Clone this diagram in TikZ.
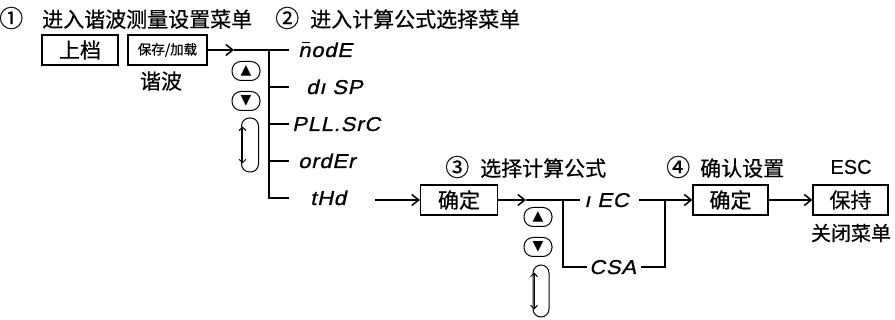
\documentclass[tikz,border=0pt]{standalone}
\usepackage{fontspec}
\newfontfamily\cjk[FakeBold=0.5]{Noto Sans CJK SC}
\newfontfamily\segf[FakeSlant=0.22,FakeStretch=1.1,LetterSpace=4,FakeBold=0.8]{Liberation Sans}
\newfontfamily\dv{DejaVu Sans}
\newfontfamily\lat[FakeBold=0.3]{Liberation Sans}
\newcommand{\circnum}[1]{{\fontsize{24}{24}\selectfont #1}}
\newcommand{\segbar}{\rlap{\kern3.5pt\rule[13.5pt]{8pt}{1.6pt}}}
\usetikzlibrary{arrows.meta,calc}
\tikzset{
 conn/.style={line width=1.5pt},
 arr/.style={conn,-{Straight Barb[length=7pt,width=11pt,line width=1.5pt]}},
 keybox/.style={draw,line width=1.1pt,minimum height=30pt,inner sep=0pt,font=\cjk\fontsize{21}{21}\selectfont},
 segtxt/.style={font=\segf\fontsize{20}{20}\selectfont,inner sep=0pt,anchor=base west},
 lbl/.style={font=\cjk\fontsize{21}{21}\selectfont,inner sep=0pt},
 btn/.style={draw,line width=1pt,rounded corners=9pt,minimum width=28pt,minimum height=19pt,inner sep=0pt,font=\dv\fontsize{14}{14}\selectfont},
 scroll/.style={draw,line width=1pt,rounded corners=8pt,minimum width=17pt,minimum height=54pt,inner sep=0pt},
 dbl/.style={line width=1pt,{Straight Barb[length=3.5pt,width=7pt]}-{Straight Barb[length=3.5pt,width=7pt]}},
}
\begin{document}
\begin{tikzpicture}[x=1pt,y=-1pt]
\useasboundingbox (0,0) rectangle (895,320);
% titles
\node[lbl,anchor=west] (t1) at (-1,18) {\circnum{①}\hspace{19pt}进入谐波测量设置菜单};
\node[lbl,anchor=west] (t2) at (275,18) {\circnum{②}\hspace{11pt}进入计算公式选择菜单};
% first row keys
\node[keybox,minimum width=76pt] (shang) at (80,50) {上档};
\node[keybox,minimum width=79pt,font=\cjk\fontsize{13.5}{13.5}\selectfont] (save) at (167.5,50) {保存/加载};
\node[lbl] (harm) at (161,81) {谐波};
% menu tree
\coordinate (j1) at (269,50);
\coordinate (a1) at (234,50);
\coordinate (e1) at (289,50);
\coordinate (j5) at (269,198);
\coordinate (b2) at (289,87);
\coordinate (b3) at (289,124);
\coordinate (b4) at (289,161);
\coordinate (b5) at (289,198);
\draw[arr] (save.east) -- (a1);
\draw[conn] (a1) -- (e1);
\draw[conn] (j1) -- (j5) -- (b5);
\draw[conn] (j1 |- b2) -- (b2);
\draw[conn] (j1 |- b3) -- (b3);
\draw[conn] (j1 |- b4) -- (b4);
\node[segtxt] (mode) at (298,57) {\segbar nodE};
\node[segtxt] (disp) at (306,94) {dı SP};
\node[segtxt] (pll) at (292,131) {PLL.SrC};
\node[segtxt] (order) at (298,168) {ordEr};
\node[segtxt] (thd) at (310,205) {tHd};
% buttons 1
\node[btn] (up1) at (246,71) {▲};
\node[btn] (dn1) at (246,101) {▼};
\node[scroll] (sc1) at (250,145) {};
\draw[dbl] ($(sc1.north west)+(1.5,9)$) -- ($(sc1.south west)+(1.5,-9)$);
% second stage
\coordinate (t5) at (375,200);
\node[keybox,minimum width=77pt] (ok1) at (459,200) {确定};
\draw[arr] (t5) -- (ok1.west);
\node[lbl,anchor=west] (t3) at (445,167) {\circnum{③}\hspace{11pt}选择计算公式};
\coordinate (a2) at (526,200);
\coordinate (e3) at (580,200);
\coordinate (j3) at (563,200);
\coordinate (j4) at (563,267);
\coordinate (e4) at (587,267);
\draw[arr] (ok1.east) -- (a2);
\draw[conn] (a2) -- (e3);
\draw[conn] (j3) -- (j4) -- (e4);
\node[segtxt] (iec) at (584,207) {ı EC};
\node[segtxt] (csa) at (589,274) {CSA};
% buttons 2
\node[btn] (up2) at (538,217) {▲};
\node[btn] (dn2) at (538,247) {▼};
\node[scroll,minimum width=16pt,minimum height=52pt] (sc2) at (541,291) {};
\draw[dbl] ($(sc2.north west)+(1.5,8)$) -- ($(sc2.south west)+(1.5,-8)$);
% third stage
\node[keybox,minimum width=75pt] (ok2) at (730.5,200) {确定};
\node[keybox,minimum width=75pt] (hold) at (850.5,200) {保持};
\coordinate (s1) at (639,200);
\coordinate (c1) at (641,267);
\coordinate (c2) at (665,267);
\coordinate (c3) at (665,200);
\draw[arr] (s1) -- (ok2.west);
\draw[conn] (c1) -- (c2) -- (c3);
\draw[arr] (ok2.east) -- (hold.west);
\node[lbl,anchor=west] (t4) at (666,167) {\circnum{④}\hspace{10pt}确认设置};
\node[lbl,font=\lat\fontsize{20}{20}\selectfont] (esc) at (851,167) {ESC};
\node[lbl,font=\cjk\fontsize{20}{20}\selectfont] (close) at (851,233) {关闭菜单};
\end{tikzpicture}
\end{document}
